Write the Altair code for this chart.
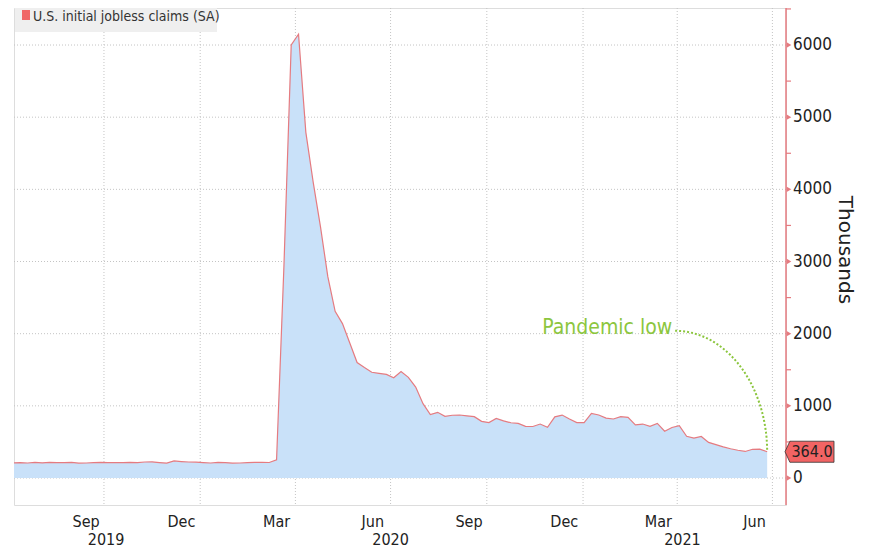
import altair as alt
import pandas as pd
import numpy as np

# ---- data (weekly U.S. initial jobless claims, SA, thousands), week ending Saturdays from 2019-07-06
claims_2019 = [210, 214, 208, 216, 210, 218, 212, 214, 216, 206, 208, 213, 218,
               212, 215, 212, 218, 212, 222, 224, 214, 206, 236, 228, 222, 220]
claims_2020_pre = [214, 208, 218, 214, 206, 208, 212, 218, 216, 215, 252]
claims_2020_post = [2920, 6000, 6150, 4790, 4100, 3480, 2790, 2310, 2140, 1870, 1600,
                    1530, 1465, 1450, 1435, 1390, 1475, 1395, 1260, 1030, 880, 910,
                    855, 870, 873, 862, 850, 785, 768, 826, 792, 766, 756, 716, 714,
                    748, 702, 848, 872, 818, 768]
claims_2021 = [768, 895, 873, 830, 818, 850, 840, 736, 748, 716, 756, 648, 700,
               724, 578, 553, 575, 494, 462, 432, 405, 385, 368, 398, 400, 364]
first_week = "2019-07-06"

month_dates = ["2019-09-14", "2019-12-14", "2020-03-14", "2020-06-14",
               "2020-09-14", "2020-12-14", "2021-03-14", "2021-06-14"]
month_labels = ["Sep", "Dec", "Mar", "Jun", "Sep", "Dec", "Mar", "Jun"]
year_dates = ["2019-10-03", "2020-07-01", "2021-04-06"]
year_labels = ["2019", "2020", "2021"]
vgrid_dates = ["2019-10-01", "2020-01-01", "2020-04-01", "2020-07-01",
               "2020-10-01", "2021-01-01", "2021-04-01", "2021-07-01"]
major_ticks = [0, 1000, 2000, 3000, 4000, 5000, 6000]
minor_ticks = [500, 1500, 2500, 3500, 4500, 5500, 6500]
axis_title = "Thousands"

legend_label = "U.S. initial jobless claims (SA)"
annot_label = "Pandemic low"
annot_date = "2020-11-23"
annot_value = 2000
connector_start_date = "2021-03-30"
connector_start_value = 2040

# ---- layout / styles
W, H = 772, 497
COND = "DejaVu Sans Condensed"
RED = "#e57b80"
GREEN = "#8cc63e"
GRID = "#c4c4c4"
TXT = "#222222"

values = claims_2019 + claims_2020_pre + claims_2020_post + claims_2021
dates = pd.date_range(first_week, periods=len(values), freq="7D")
df = pd.DataFrame({"date": dates, "claims": values})

x_scale = alt.Scale(domain=[alt.DateTime(year=2019, month=7, date=7),
                            alt.DateTime(year=2021, month=7, date=14)])
y_scale = alt.Scale(domain=[-374, 6513], nice=False, zero=False)

X = lambda f: alt.X(f, type="temporal", scale=x_scale, axis=None)
Y = lambda f: alt.Y(f, type="quantitative", scale=y_scale, axis=None)

# gridlines
vgrid = alt.Chart(pd.DataFrame({"d": pd.to_datetime(vgrid_dates)})).mark_rule(
    color=GRID, strokeDash=[1, 2], strokeWidth=1).encode(x=X("d"))
hgrid = alt.Chart(pd.DataFrame({"v": major_ticks})).mark_rule(
    color=GRID, strokeDash=[1, 2], strokeWidth=1).encode(y=Y("v"))

area = alt.Chart(df).mark_area(color="#c9e1f9", opacity=1, clip=True).encode(
    x=X("date"), y=Y("claims"), y2=alt.value(H))
line = alt.Chart(df).mark_line(color=RED, strokeWidth=1.2, clip=True).encode(
    x=X("date"), y=Y("claims"))

# right axis: domain line, minor ticks, major arrows, labels, title
axis_line = alt.Chart(pd.DataFrame({"a": [0]})).mark_rule(color=RED, strokeWidth=1.5).encode(
    x=alt.value(W), y=alt.value(0), y2=alt.value(H))
minor = alt.Chart(pd.DataFrame({"v": minor_ticks})).mark_rule(color=RED, strokeWidth=1.2).encode(
    x=alt.value(W), x2=alt.value(W + 5), y=Y("v"))
arrows = alt.Chart(pd.DataFrame({"v": major_ticks})).mark_point(
    shape="triangle-right", filled=True, color=RED, size=28, opacity=1).encode(
    x=alt.value(W + 3), y=Y("v"))
ylabels = alt.Chart(pd.DataFrame({"v": major_ticks, "t": [str(v) for v in major_ticks]})).mark_text(
    font=COND, fontSize=17, color=TXT, align="left", baseline="middle").encode(
    x=alt.value(W + 7), y=Y("v"), text="t:N")
ytitle = alt.Chart(pd.DataFrame({"t": [axis_title]})).mark_text(
    font="DejaVu Sans", fontSize=20, color=TXT, angle=90, align="center",
    baseline="middle").encode(x=alt.value(W + 59), y=alt.value(242), text="t:N")

# x labels
months = alt.Chart(pd.DataFrame({"d": pd.to_datetime(month_dates), "t": month_labels})).mark_text(
    font=COND, fontSize=16, color=TXT, baseline="alphabetic", align="center").encode(
    x=X("d"), y=alt.value(519), text="t:N")
years = alt.Chart(pd.DataFrame({"d": pd.to_datetime(year_dates), "t": year_labels})).mark_text(
    font=COND, fontSize=16, color=TXT, baseline="alphabetic", align="center").encode(
    x=X("d"), y=alt.value(537), text="t:N")

# annotation
annot = alt.Chart(pd.DataFrame({"d": [pd.Timestamp(annot_date)], "v": [annot_value],
                                "t": [annot_label]})).mark_text(
    font=COND, fontSize=21, color=GREEN, align="left", baseline="alphabetic").encode(
    x=X("d"), y=Y("v"), text="t:N")

t = np.linspace(0, np.pi / 2, 40)
c0 = pd.Timestamp(connector_start_date)
c1 = df["date"].iloc[-1]
span = (c1 - c0)
cdf = pd.DataFrame({
    "d": [c0 + span * float(s) for s in np.sin(t)],
    "v": values[-1] + (connector_start_value - values[-1]) * np.cos(t),
    "o": np.arange(len(t)),
})
connector = alt.Chart(cdf).mark_line(color=GREEN, strokeDash=[2, 2], strokeWidth=2).encode(
    x=X("d"), y=Y("v"), order="o:Q")

# last value tag
last = pd.DataFrame({"v": [values[-1]], "t": [f"{values[-1]:.1f}"]})
tag_shape = "M -1 0 L -0.8 -0.43 L 1 -0.43 L 1 0.43 L -0.8 0.43 Z"
tag = alt.Chart(last).mark_point(shape=tag_shape, filled=True, fill="#f26464",
                                 stroke="#333", strokeWidth=0.8, size=2401, opacity=1).encode(
    x=alt.value(W + 23.5), y=Y("v"))
tag_text = alt.Chart(last).mark_text(font=COND, fontSize=16, color=TXT,
                                     align="center", baseline="middle").encode(
    x=alt.value(W + 26), y=Y("v"), text="t:N")

# legend box
leg_bg = alt.Chart(pd.DataFrame({"a": [0]})).mark_rect(color="#efefef").encode(
    x=alt.value(1), x2=alt.value(203), y=alt.value(0), y2=alt.value(24))
leg_sq = alt.Chart(pd.DataFrame({"a": [0]})).mark_rect(color="#f06868").encode(
    x=alt.value(8), x2=alt.value(16), y=alt.value(2), y2=alt.value(12))
leg_tx = alt.Chart(pd.DataFrame({"t": [legend_label]})).mark_text(
    font=COND, fontSize=14, color="#333", align="left", baseline="alphabetic").encode(
    x=alt.value(19), y=alt.value(13), text="t:N")

chart = alt.layer(
    vgrid, hgrid, area, line, axis_line, minor, arrows, ylabels, ytitle, months, years,
    connector, annot, tag, tag_text, leg_bg, leg_sq, leg_tx
).properties(
    width=W, height=H, autosize="none",
    padding={"left": 6, "top": 0, "right": 76, "bottom": 45},
).configure_view(stroke=None).configure(background="white")

chart.save("out.html", embed_options={"renderer": "svg", "actions": False})
